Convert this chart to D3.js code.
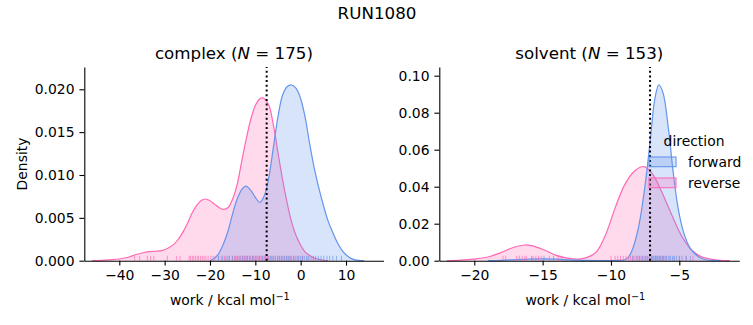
<!DOCTYPE html>
<html>
<head>
<meta charset="utf-8">
<script src="https://cdn.jsdelivr.net/npm/d3@7/dist/d3.min.js"></script>
<style>
  body { margin: 0; background: #fff; }
  svg { display: block; font-family: "DejaVu Sans", sans-serif; }
</style>
</head>
<body>
<svg id="canvas" width="753" height="325"></svg>
<script>
// density curves: [work, density]
let complexForward = [[-20, 0], [-19, 0.0003], [-18, 0.0009], [-17, 0.002], [-16, 0.0035], [-15, 0.0055],
  [-14, 0.0072], [-13, 0.0083], [-12.1, 0.0087], [-11, 0.0082], [-10, 0.0074], [-9, 0.0068], [-8, 0.0076],
  [-7, 0.0098], [-6, 0.0133], [-5, 0.0168], [-4, 0.0193], [-3, 0.0203], [-2, 0.0205], [-1, 0.0201],
  [0, 0.0189], [1, 0.0167], [2, 0.0136], [3, 0.0108], [4, 0.0085], [5, 0.0065], [6, 0.0047], [7, 0.0034],
  [8, 0.0022], [9, 0.0013], [10, 0.0007], [11, 0.0003], [12, 0.0001], [14, 0]]
let complexReverse = [[-46, 0], [-44, 0.00003], [-42, 0.0001], [-40, 0.0002], [-38, 0.0004], [-36.5, 0.0007],
  [-35, 0.0009], [-33.5, 0.00105], [-32, 0.0011], [-30.5, 0.0012], [-29.5, 0.0014], [-28, 0.0019],
  [-27, 0.0025], [-26, 0.0033], [-25, 0.0043], [-24, 0.0055], [-23, 0.0064], [-22, 0.0070], [-21, 0.0072],
  [-20, 0.0070], [-19, 0.0066], [-18, 0.0062], [-17, 0.0060], [-16, 0.0062], [-15, 0.0072], [-14, 0.0089],
  [-13, 0.0116], [-12, 0.0142], [-11, 0.0165], [-10, 0.0181], [-9, 0.0189], [-8.5, 0.0190], [-8, 0.0189],
  [-7, 0.0181], [-6, 0.0158], [-5, 0.0126], [-4, 0.0095], [-3, 0.0068], [-2, 0.0045], [-1, 0.0029],
  [0, 0.0018], [1, 0.0010], [2, 0.0006], [3, 0.0003], [4, 0.00015], [5, 0.00005], [6, 0]]
let solventForward = [[-19, 0], [-18, 0.0002], [-17, 0.0006], [-16, 0.0009], [-15, 0.001], [-14, 0.0008],
  [-13, 0.0004], [-12, 0.0002], [-11, 0.0001], [-10, 0.0001], [-9.5, 0.0002], [-9, 0.0005], [-8.75, 0.0018],
  [-8.5, 0.0048], [-8, 0.0175], [-7.5, 0.041], [-7.1, 0.067], [-6.8, 0.087], [-6.5, 0.0951], [-6.2, 0.091],
  [-5.8, 0.0717], [-5.45, 0.048], [-5.1, 0.029], [-4.7, 0.0157], [-4.2, 0.0067], [-3.6, 0.0022],
  [-3, 0.0004], [-2.4, 0.0001], [-2, 0]]
let solventReverse = [[-22, 0], [-21, 0.0003], [-20.1, 0.0008], [-19, 0.002], [-18, 0.0045], [-17.2, 0.007],
  [-16.3, 0.0085], [-15.5, 0.0075], [-14.8, 0.0055], [-14, 0.0029], [-13.2, 0.0014], [-12.3, 0.0009],
  [-11.6, 0.0022], [-11.05, 0.0049], [-10.4, 0.0139], [-9.7, 0.0284], [-9, 0.041], [-8.25, 0.0486],
  [-7.6, 0.0509], [-7, 0.0473], [-6.3, 0.0374], [-5.55, 0.0247], [-4.8, 0.013], [-4.1, 0.0058],
  [-3.4, 0.0022], [-2.6, 0.0007], [-2, 0.0002], [-1.3, 0]]

// rug samples (estimated)
let complexForwardRug = [-19.3, -18.1, -17.2, -16.5, -15.8, -15.0, -14.4, -13.9, -13.4, -12.9, -12.5, -12.1,
  -11.7, -11.2, -10.6, -9.9, -9.1, -8.4, -7.8, -7.2, -6.6, -6.1, -5.6, -5.1, -4.7, -4.3, -3.9, -3.5, -3.1,
  -2.7, -2.4, -2.0, -1.6, -1.2, -0.8, -0.4, 0.0, 0.4, 0.8, 1.3, 1.8, 2.3, 2.8, 3.3, 3.9, 4.5, 5.1, 5.8,
  6.4, 7.1, 7.9, 9.0]
let complexReverseRug = [-36.6, -35.5, -33.8, -33.1, -32.4, -29.4, -27.4, -26.6, -24.6, -24.3, -23.9, -23.6,
  -23.2, -22.8, -22.5, -22.1, -21.7, -21.3, -20.9, -20.4, -19.8, -18.9, -18.2, -17.5, -16.8, -16.2, -15.7,
  -15.1, -14.6, -14.1, -13.6, -13.2, -12.8, -12.4, -12.0, -11.7, -11.3, -11.0, -10.7, -10.4, -10.1, -9.8,
  -9.5, -9.2, -8.9, -8.6, -8.3, -8.0, -7.7, -7.4, -7.1, -6.8, -6.4, -6.0, -5.6, -5.1, -4.7, -4.2, -3.6,
  -3.0, -2.3, -1.5, -0.6, 0.4, 1.6, 2.8]
let solventForwardRug = [-15.8, -14.9, -14.2, -8.4, -8.1, -7.9, -7.7, -7.5, -7.35, -7.2, -7.05, -6.95, -6.85,
  -6.75, -6.65, -6.55, -6.45, -6.35, -6.25, -6.15, -6.05, -5.95, -5.8, -5.65, -5.5, -5.35, -5.2, -5.0,
  -4.8, -4.5, -4.2]
let solventReverseRug = [-17.9, -17.7, -16.9, -16.7, -16.5, -16.3, -16.2, -15.7, -15.5, -15.3, -15.1, -14.5,
  -13.85, -13.6, -10.0, -9.7, -9.5, -9.3, -9.1, -8.9, -8.7, -8.55, -8.4, -8.25, -8.1, -7.95, -7.8, -7.65,
  -7.5, -7.35, -7.2, -7.05, -6.9, -6.75, -6.6, -6.4, -6.2, -5.95, -5.7, -5.4, -5.0, -4.5, -4.0]

let complexMark = -7.5
let solventMark = -7.14

let complexTicksX = [-40, -30, -20, -10, 0, 10]
let complexTicksY = [0, 0.005, 0.01, 0.015, 0.02]
let solventTicksX = [-20, -15, -10, -5]
let solventTicksY = [0, 0.02, 0.04, 0.06, 0.08, 0.1]

let directions = ['forward', 'reverse']
let colors = { forward: '#6495ed', reverse: '#ff69b4' }

let canvas = d3.select('#canvas')
let fs = 13.9

canvas.append('text')
  .attr('x', 377).attr('y', 19)
  .attr('text-anchor', 'middle')
  .attr('font-size', 16.7)
  .text('RUN1080')

let drawPanel = (opts) => {
  let x = d3.scaleLinear().domain(opts.xDomain).range([opts.left, opts.right])
  let y = d3.scaleLinear().domain(opts.yDomain).range([260.7, 67])
  let g = canvas.append('g')

  let curve = d3.curveCatmullRom.alpha(0.5)
  let area = d3.area().x(d => x(d[0])).y0(y(0)).y1(d => Math.min(y(0), y(d[1]))).curve(curve)
  let line = d3.line().x(d => x(d[0])).y(d => y(d[1])).curve(curve)

  // reverse drawn first, forward on top
  let layers = [['reverse', opts.reverse], ['forward', opts.forward]]
  layers.forEach(([name, pts]) => {
    g.append('path').attr('d', area(pts))
      .attr('fill', colors[name]).attr('fill-opacity', 0.25)
    g.append('path').attr('d', line(pts))
      .attr('fill', 'none').attr('stroke', colors[name]).attr('stroke-width', 1.2)
  })

  let rugs = [['reverse', opts.reverseRug], ['forward', opts.forwardRug]]
  rugs.forEach(([name, vals]) => {
    g.selectAll(null).data(vals).enter().append('line')
      .attr('x1', d => x(d)).attr('x2', d => x(d))
      .attr('y1', y(0)).attr('y2', y(0) - 4.9)
      .attr('stroke', colors[name]).attr('stroke-width', 1).attr('stroke-opacity', 0.65)
  })

  g.append('line')
    .attr('x1', x(opts.mark)).attr('x2', x(opts.mark))
    .attr('y1', y.range()[0]).attr('y2', y.range()[1])
    .attr('stroke', 'black').attr('stroke-width', 2).attr('stroke-dasharray', '2,2.7')

  let xAxis = g.append('g').attr('transform', `translate(0,${y(0)})`)
    .call(d3.axisBottom(x).tickValues(opts.xTicks).tickSizeInner(4.9).tickSizeOuter(0).tickPadding(4.9)
      .tickFormat(d => d3.format('d')(d).replace('-', '−')))
  let yAxis = g.append('g').attr('transform', `translate(${opts.left},0)`)
    .call(d3.axisLeft(y).tickValues(opts.yTicks).tickSizeInner(4.9).tickSizeOuter(0).tickPadding(4.9)
      .tickFormat(d3.format(opts.yFormat)))
  ;[xAxis, yAxis].forEach(a => {
    a.selectAll('path, line').attr('stroke', 'black').attr('stroke-width', 1.1)
    a.selectAll('text').attr('font-size', fs).attr('fill', 'black')
      .attr('font-family', '"DejaVu Sans", sans-serif')
  })

  let title = g.append('text')
    .attr('x', (opts.left + opts.right) / 2).attr('y', 58.7)
    .attr('text-anchor', 'middle').attr('font-size', 16.7)
  title.append('tspan').text(opts.name + ' (')
  title.append('tspan').attr('font-style', 'italic').text('N')
  title.append('tspan').text(' = ' + opts.n + ')')

  let xl = g.append('text')
    .attr('x', (opts.left + opts.right) / 2 - 4).attr('y', 305)
    .attr('text-anchor', 'middle').attr('font-size', fs)
  xl.append('tspan').text('work / kcal mol')
  xl.append('tspan').attr('font-size', fs * 0.7).attr('dy', -5.5).text('−1')
}

drawPanel({
  name: 'complex', n: 175, left: 84.3, right: 383.5,
  xDomain: [-47.72, 18.27], yDomain: [0, 0.0226],
  forward: complexForward, reverse: complexReverse,
  forwardRug: complexForwardRug, reverseRug: complexReverseRug,
  mark: complexMark, xTicks: complexTicksX, yTicks: complexTicksY, yFormat: '.3f'
})
drawPanel({
  name: 'solvent', n: 153, left: 439.3, right: 739.3,
  xDomain: [-22.56, -0.61], yDomain: [0, 0.1047],
  forward: solventForward, reverse: solventReverse,
  forwardRug: solventForwardRug, reverseRug: solventReverseRug,
  mark: solventMark, xTicks: solventTicksX, yTicks: solventTicksY, yFormat: '.2f'
})

canvas.append('text')
  .attr('transform', 'translate(27,164) rotate(-90)')
  .attr('text-anchor', 'middle').attr('font-size', fs)
  .text('Density')

// legend
let legend = canvas.append('g')
legend.append('text').attr('x', 694).attr('y', 146)
  .attr('text-anchor', 'middle').attr('font-size', fs).text('direction')
directions.forEach((d, i) => {
  legend.append('rect')
    .attr('x', 649).attr('y', 157 + i * 21).attr('width', 27).attr('height', 9.7)
    .attr('fill', colors[d]).attr('fill-opacity', 0.25)
    .attr('stroke', colors[d]).attr('stroke-width', 1.1)
  legend.append('text')
    .attr('x', 688).attr('y', 166.5 + i * 21)
    .attr('font-size', fs).text(d)
})
</script>
</body>
</html>
